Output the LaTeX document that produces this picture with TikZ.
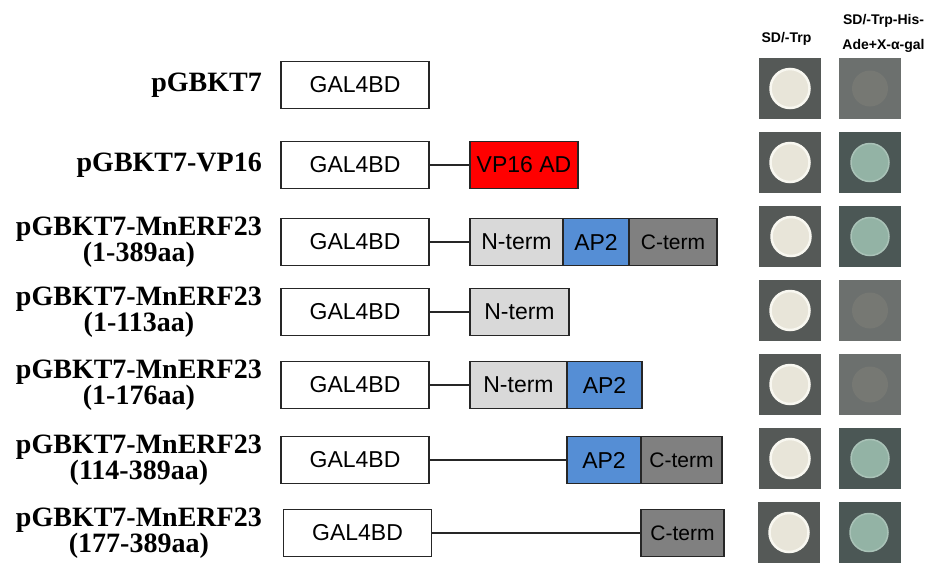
\documentclass[tikz,border=0pt]{standalone}
\usepackage{fontspec}
\setmainfont{Liberation Serif}
\newfontfamily\boxfont{Liberation Sans}

\definecolor{ntermgray}{HTML}{D9D9D9}
\definecolor{apblue}{HTML}{558ED5}
\definecolor{ctermgray}{HTML}{808080}
\definecolor{vpred}{HTML}{FF0000}
\definecolor{plategray}{HTML}{555957}
\definecolor{platepale}{HTML}{6C706E}
\definecolor{plategreen}{HTML}{4B5755}
\definecolor{colonywhite}{HTML}{E8E5D9}
\definecolor{colonyrim}{HTML}{F8F7F0}
\definecolor{colonygreen}{HTML}{93B3A5}
\definecolor{colonyfaint}{HTML}{767873}

\begin{document}
\begin{tikzpicture}[
		x=1pt, y=-1pt,
		namefont/.style={font=\fontsize{28}{25}\selectfont\bfseries, align=center, anchor=east, inner sep=0pt},
		headfont/.style={font=\boxfont\fontsize{14}{25}\selectfont\bfseries, align=center, inner sep=0pt},
		galbox/.style={draw=black!85, line width=1.8pt, fill=white, minimum width=148pt, minimum height=47pt, inner sep=0pt, outer sep=0pt, font=\boxfont\fontsize{23}{23}\selectfont},
		dombox/.style={galbox, anchor=west},
		link/.style={line width=2.2pt, black!85},
		colonyW/.style={fill=colonywhite, draw=colonyrim, line width=2.5pt},
		colonyG/.style={fill=colonygreen, draw=colonygreen!80!white, line width=1.5pt},
		colonyF/.style={fill=colonyfaint}
	]
	\useasboundingbox (0,0) rectangle (940,574);

	% 表头
	\node[headfont, anchor=base] (h1) at (786.5,42) {SD/-Trp};
	\node[headfont] (h2) at (883.5,33) {SD/-Trp-His-\\Ade+X-α-gal};

	% 左侧的质粒名称
	\node[namefont] (l1) at (262,85) {pGBKT7};
	\node[namefont] (l2) at (262,165) {pGBKT7-VP16};
	\node[namefont] (l3) at (262,242) {pGBKT7-MnERF23\\(1-389aa)};
	\node[namefont] (l4) at (262,312) {pGBKT7-MnERF23\\(1-113aa)};
	\node[namefont] (l5) at (262,385) {pGBKT7-MnERF23\\(1-176aa)};
	\node[namefont] (l6) at (262,460) {pGBKT7-MnERF23\\(114-389aa)};
	\node[namefont] (l7) at (262,533) {pGBKT7-MnERF23\\(177-389aa)};

	% GAL4BD 结合域
	\node[galbox] (g1) at (355,85) {GAL4BD};
	\node[galbox] (g2) at (355,165) {GAL4BD};
	\node[galbox] (g3) at (355,242) {GAL4BD};
	\node[galbox] (g4) at (355,312) {GAL4BD};
	\node[galbox] (g5) at (355,385) {GAL4BD};
	\node[galbox] (g6) at (355,460) {GAL4BD};
	\node[galbox] (g7) at (357.5,533) {GAL4BD};

	% 融合的结构域
	\node[dombox, fill=vpred, minimum width=108pt] (v2) at (470,165) {VP16 AD};
	\node[dombox, fill=ntermgray, minimum width=93pt] (n3) at (470,242) {N-term};
	\node[dombox, fill=apblue, minimum width=66pt] (a3) at (n3.east) {AP2};
	\node[dombox, fill=ctermgray, minimum width=88pt, font=\boxfont\fontsize{21}{21}\selectfont] (c3) at (a3.east) {C-term};
	\node[dombox, fill=ntermgray, minimum width=99pt] (n4) at (470,312) {N-term};
	\node[dombox, fill=ntermgray, minimum width=97pt] (n5) at (470,385) {N-term};
	\node[dombox, fill=apblue, minimum width=75pt] (a5) at (n5.east) {AP2};
	\node[dombox, fill=apblue, minimum width=74pt] (a6) at (567,460) {AP2};
	\node[dombox, fill=ctermgray, minimum width=81pt, font=\boxfont\fontsize{21}{21}\selectfont] (c6) at (a6.east) {C-term};
	\node[dombox, fill=ctermgray, minimum width=83pt, font=\boxfont\fontsize{21}{21}\selectfont] (c7) at (641,533) {C-term};

	% 连接线
	\draw[link] (g2) -- (v2);
	\draw[link] (g3) -- (n3);
	\draw[link] (g4) -- (n4);
	\draw[link] (g5) -- (n5);
	\draw[link] (g6) -- (a6);
	\draw[link] (g7) -- (c7);

	% 平板：SD/-Trp
	\fill[plategray] (759,58) rectangle ++(62,61);  \draw[colonyW] (790,88.5) circle[radius=19.5pt];
	\fill[plategray] (759,132) rectangle ++(62,61); \draw[colonyW] (790,162.5) circle[radius=19.5pt];
	\fill[plategray] (759,206) rectangle ++(62,61); \draw[colonyW] (791,236.5) circle[radius=19.5pt];
	\fill[plategray] (759,280) rectangle ++(62,61); \draw[colonyW] (790,310.5) circle[radius=19.5pt];
	\fill[plategray] (759,354) rectangle ++(62,61); \draw[colonyW] (790,384.5) circle[radius=19.5pt];
	\fill[plategray] (759,428) rectangle ++(62,61); \draw[colonyW] (790,458.5) circle[radius=19.5pt];
	\fill[plategray] (758,502) rectangle ++(62,61); \draw[colonyW] (789,532.5) circle[radius=19.5pt];

	% 平板：SD/-Trp-His-Ade+X-α-gal
	\fill[platepale] (839,58) rectangle ++(62,61);   \fill[colonyF] (870,88.5) circle[radius=18pt];
	\fill[plategreen] (839,132) rectangle ++(62,61); \draw[colonyG] (870,162.5) circle[radius=19pt];
	\fill[plategreen] (839,206) rectangle ++(62,61); \draw[colonyG] (870,236.5) circle[radius=19pt];
	\fill[platepale] (839,280) rectangle ++(62,61);  \fill[colonyF] (870,310.5) circle[radius=18pt];
	\fill[platepale] (839,354) rectangle ++(62,61);  \fill[colonyF] (870,384.5) circle[radius=18pt];
	\fill[plategreen] (839,428) rectangle ++(62,61); \draw[colonyG] (870,458.5) circle[radius=19pt];
	\fill[plategreen] (839,502) rectangle ++(62,61); \draw[colonyG] (869,532.5) circle[radius=19pt];
\end{tikzpicture}
\end{document}
